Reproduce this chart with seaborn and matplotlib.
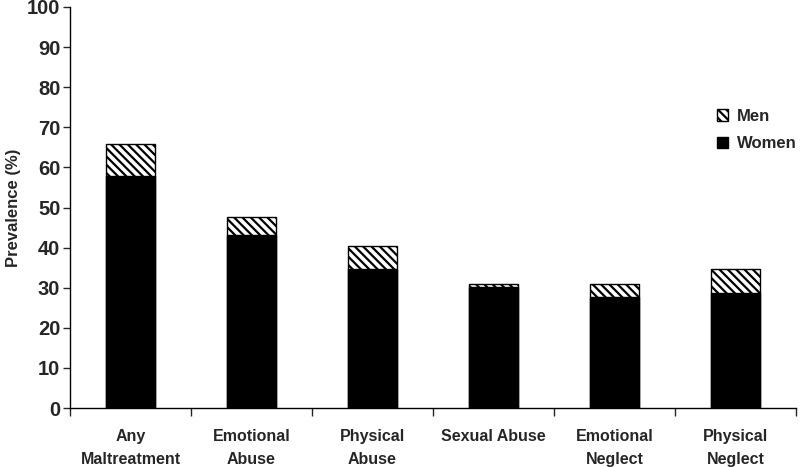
import matplotlib
matplotlib.use("Agg")
import matplotlib.pyplot as plt
from matplotlib.patches import Patch
import pandas as pd
import seaborn as sns

categories = ["Any\nMaltreatment", "Emotional\nAbuse", "Physical\nAbuse",
              "Sexual Abuse", "Emotional\nNeglect", "Physical\nNeglect"]
women = [57.8, 43.2, 34.6, 30.2, 27.7, 28.8]
total = [65.8, 47.6, 40.5, 31.0, 31.0, 34.6]
y_ticks = [0, 10, 20, 30, 40, 50, 60, 70, 80, 90, 100]

sns.set_style("white")
plt.rcParams["font.family"] = ["Liberation Sans", "DejaVu Sans"]
plt.rcParams["font.weight"] = "bold"
plt.rcParams["hatch.linewidth"] = 1.6

df = pd.DataFrame({"category": categories, "women": women, "total": total})

fig = plt.figure(figsize=(8, 4.67), dpi=100)
ax = fig.add_axes([70 / 800, 1 - 408 / 467, 726 / 800, 401 / 467])

# men on top: draw the full height hatched, then women over it
sns.barplot(data=df, x="category", y="total", color="white", edgecolor="black",
            linewidth=1, hatch="\\\\\\\\", width=0.41, ax=ax, saturation=1)
sns.barplot(data=df, x="category", y="women", color="black", edgecolor="black",
            linewidth=1, width=0.41, ax=ax, saturation=1)

ax.set_xlim(-0.5, len(categories) - 0.5)
ax.set_ylim(0, 100)
ax.set_yticks(y_ticks)
ax.tick_params(axis="y", labelsize=14.5, length=5, width=1, pad=2, direction="out", left=True)
ax.tick_params(axis="x", which="major", labelsize=11.5, length=0, pad=15)
ax.set_xticks([i - 0.5 for i in range(len(categories) + 1)], minor=True)
ax.tick_params(axis="x", which="minor", length=6, width=1, direction="out", bottom=True)
for lab in ax.get_xticklabels():
    lab.set_linespacing(1.7)
    lab.set_fontweight("bold")
for lab in ax.get_yticklabels():
    lab.set_fontweight("bold")

ax.set_xlabel("")
ax.set_ylabel("Prevalence (%)", fontsize=12, fontweight="bold", labelpad=4)

sns.despine(ax=ax)
for side in ["left", "bottom"]:
    ax.spines[side].set_color("black")
    ax.spines[side].set_linewidth(1)

handles = [
    Patch(facecolor="white", edgecolor="black", hatch="\\\\\\\\", label="Men"),
    Patch(facecolor="black", edgecolor="black", label="Women"),
]
fig.legend(handles=handles, loc="upper left", bbox_to_anchor=(710 / 800, 1 - 102 / 467),
           frameon=False, prop={"size": 12, "weight": "bold"}, handlelength=0.7,
           handleheight=0.7, handletextpad=0.5, labelspacing=0.75, borderaxespad=0)

fig.savefig("out.png", dpi=100)
